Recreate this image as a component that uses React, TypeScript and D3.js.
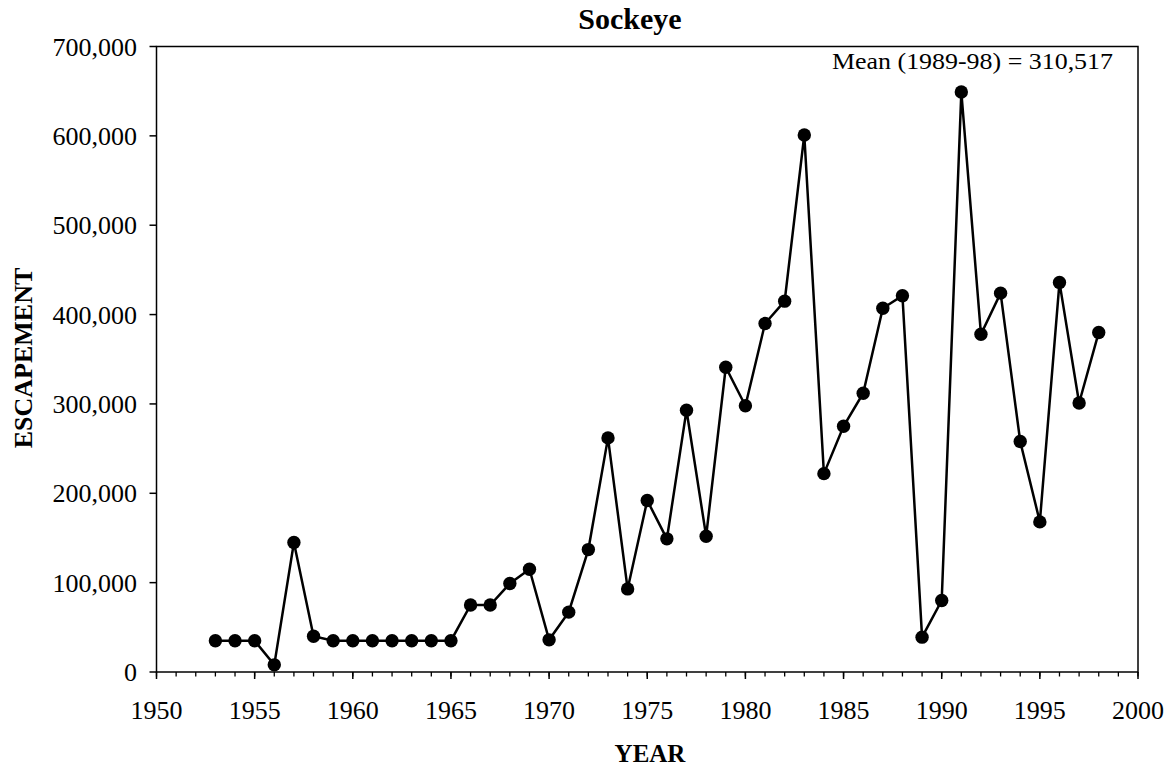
import React from "react";
import * as d3 from "d3";

const years: number[] = [
  1953, 1954, 1955, 1956, 1957, 1958, 1959, 1960, 1961, 1962, 1963, 1964, 1965,
  1966, 1967, 1968, 1969, 1970, 1971, 1972, 1973, 1974, 1975, 1976, 1977, 1978,
  1979, 1980, 1981, 1982, 1983, 1984, 1985, 1986, 1987, 1988, 1989, 1990, 1991,
  1992, 1993, 1994, 1995, 1996, 1997, 1998,
];
const escapement: number[] = [
  35000, 35000, 35000, 8000, 145000, 40000, 35000, 35000, 35000, 35000, 35000, 35000, 35000,
  75000, 75000, 99000, 115000, 36000, 67000, 137000, 262000, 93000, 192000, 149000, 293000, 152000,
  341000, 298000, 390000, 415000, 601000, 222000, 275000, 312000, 407000, 421000, 39000, 80000, 649000,
  378000, 424000, 258000, 168000, 436000, 301000, 380000,
];
const yTicks: number[] = [0, 100000, 200000, 300000, 400000, 500000, 600000, 700000];
const xMajorTicks: number[] = [1950, 1955, 1960, 1965, 1970, 1975, 1980, 1985, 1990, 1995, 2000];
const xMinorTicks: number[] = d3.range(1950, 2001, 1);
const titleText = "Sockeye";
const xTitle = "YEAR";
const yTitle = "ESCAPEMENT";
const meanLabel = "Mean (1989-98) = 310,517";

const W = 1170;
const H = 770;
const left = 156.5;
const right = 1138;
const top = 46.5;
const bottom = 672;
const font = "Liberation Serif, Times New Roman, DejaVu Serif, serif";

export default function App() {
  const x = d3.scaleLinear().domain([1950, 2000]).range([left, right]);
  const y = d3.scaleLinear().domain([0, 700000]).range([bottom, top]);
  const fmt = d3.format(",");
  const line = d3
    .line<number>()
    .x((_, i) => x(years[i]))
    .y((d) => y(d));

  return (
    <svg
      width={W}
      height={H}
      style={{ position: "absolute", left: 0, top: 0, background: "#fff", fontFamily: font }}
    >
      <rect x={0} y={0} width={W} height={H} fill="#fff" />
      <rect
        x={left}
        y={top}
        width={right - left}
        height={bottom - top}
        fill="none"
        stroke="#000"
        strokeWidth={1.5}
      />
      {yTicks.map((t) => (
        <g key={"y" + t}>
          <line x1={left - 7} x2={left} y1={y(t)} y2={y(t)} stroke="#000" strokeWidth={1.5} />
          <text x={137} y={y(t)} dy="0.35em" textAnchor="end" fontSize={26} fill="#000">
            {fmt(t)}
          </text>
        </g>
      ))}
      {xMinorTicks.map((t) => (
        <line
          key={"xm" + t}
          x1={x(t)}
          x2={x(t)}
          y1={bottom}
          y2={bottom + 4.5}
          stroke="#000"
          strokeWidth={1.3}
        />
      ))}
      {xMajorTicks.map((t) => (
        <g key={"x" + t}>
          <line x1={x(t)} x2={x(t)} y1={bottom} y2={bottom + 7} stroke="#000" strokeWidth={1.5} />
          <text x={x(t)} y={719} textAnchor="middle" fontSize={26} fill="#000">
            {t}
          </text>
        </g>
      ))}
      <path d={line(escapement) || ""} fill="none" stroke="#000" strokeWidth={2.5} strokeLinejoin="miter" />
      {escapement.map((v, i) => (
        <circle key={"p" + i} cx={x(years[i])} cy={y(v)} r={6.7} fill="#000" />
      ))}
      <text x={630} y={29} textAnchor="middle" fontSize={30} fontWeight="bold" fill="#000">
        {titleText}
      </text>
      <text x={1113} y={69} textAnchor="end" fontSize={24} fill="#000" textLength={281} lengthAdjust="spacingAndGlyphs">
        {meanLabel}
      </text>
      <text x={650} y={762} textAnchor="middle" fontSize={25} fontWeight="bold" fill="#000">
        {xTitle}
      </text>
      <text
        transform={`translate(32,358) rotate(-90)`}
        textAnchor="middle"
        fontSize={26}
        fontWeight="bold"
        fill="#000"
      >
        {yTitle}
      </text>
    </svg>
  );
}
